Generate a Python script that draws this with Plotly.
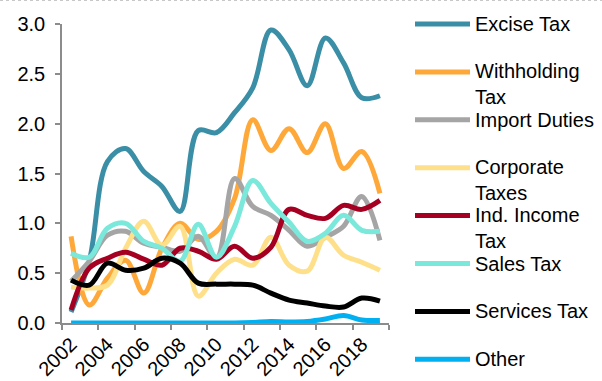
import plotly.graph_objects as go

# Tax revenue by source, 2002-2019
years = list(range(2002, 2020))

series_names = [
    "Excise Tax", "Withholding<br>Tax", "Import Duties", "Corporate<br>Taxes",
    "Ind. Income<br>Tax", "Sales Tax", "Services Tax", "Other",
]

excise_tax = [0.11, 0.62, 1.62, 1.75, 1.52, 1.37, 1.12, 1.93, 1.91, 2.11,
              2.36, 2.94, 2.74, 2.38, 2.86, 2.61, 2.26, 2.28]
withholding_tax = [0.87, 0.18, 0.45, 0.63, 0.30, 0.75, 1.00, 0.84, 0.92, 1.25,
                   2.04, 1.73, 1.95, 1.71, 2.00, 1.55, 1.72, 1.30]
import_duties = [0.42, 0.62, 0.88, 0.92, 0.80, 0.76, 0.72, 0.87, 0.65, 1.45,
                 1.17, 1.08, 0.93, 0.77, 0.86, 0.97, 1.27, 0.83]
corporate_taxes = [0.36, 0.35, 0.38, 0.75, 1.02, 0.78, 0.97, 0.27, 0.50, 0.64,
                   0.58, 0.86, 0.58, 0.52, 0.86, 0.68, 0.61, 0.53]
ind_income_tax = [0.13, 0.55, 0.65, 0.71, 0.64, 0.58, 0.75, 0.72, 0.64, 0.77,
                  0.65, 0.76, 1.14, 1.08, 1.05, 1.18, 1.14, 1.23]
sales_tax = [0.70, 0.66, 0.95, 1.00, 0.82, 0.75, 0.62, 0.99, 0.66, 0.97,
             1.43, 1.20, 1.01, 0.82, 0.90, 1.08, 0.93, 0.92]
services_tax = [0.43, 0.38, 0.60, 0.53, 0.55, 0.65, 0.60, 0.40, 0.39, 0.39,
                0.38, 0.30, 0.23, 0.20, 0.17, 0.16, 0.25, 0.22]
other = [0.0, 0.0, 0.0, 0.0, 0.0, 0.0, 0.0, 0.0, 0.0, 0.0,
         0.005, 0.015, 0.01, 0.015, 0.04, 0.075, 0.03, 0.025]

colors = ["#3a8ea5", "#ffa83a", "#a5a5a5", "#ffe08a",
          "#a50021", "#7ae8da", "#000000", "#00b0f0"]

y_ticks = [0.0, 0.5, 1.0, 1.5, 2.0, 2.5, 3.0]
x_ticks = years[::2]

all_series = [excise_tax, withholding_tax, import_duties, corporate_taxes,
              ind_income_tax, sales_tax, services_tax, other]

FONT = "Arial, Liberation Sans, sans-serif"
FS = 20
AXIS_GREY = "#8c8c8c"

W, H = 602, 381
ML, MR, MT, MB = 62, 213, 24, 58
PW, PH = W - ML - MR, H - MT - MB


def px_to_paper_x(px):
    return (px - ML) / PW


def px_to_paper_y(py):
    return (MT + PH - py) / PH


fig = go.Figure()
for name, vals, col in zip(series_names, all_series, colors):
    fig.add_trace(go.Scatter(
        x=years, y=vals, mode="lines", name=name.replace("<br>", " "),
        line=dict(color=col, width=5, shape="spline", smoothing=1.0),
        showlegend=False, hoverinfo="x+y+name",
    ))

# Legend drawn beside the plot: long line swatch + label per series
shapes = []
annotations = []
legend_top = 24
legend_step = 47.9
for i, (name, col) in enumerate(zip(series_names, colors)):
    ly = legend_top + legend_step * i
    shapes.append(dict(
        type="line", xref="paper", yref="paper",
        x0=px_to_paper_x(415), x1=px_to_paper_x(470),
        y0=px_to_paper_y(ly), y1=px_to_paper_y(ly),
        line=dict(color=col, width=5),
    ))
    n_lines = name.count("<br>") + 1
    annotations.append(dict(
        xref="paper", yref="paper", x=px_to_paper_x(473), y=px_to_paper_y(ly),
        xanchor="left", yanchor="middle", align="left",
        yshift=-(n_lines - 1) * 12.5,
        text=name, showarrow=False,
        font=dict(family=FONT, size=FS, color="#000000"),
    ))

# dotted frame edge along the top of the chart
shapes.append(dict(
    type="line", xref="paper", yref="paper",
    x0=px_to_paper_x(0), x1=px_to_paper_x(W),
    y0=px_to_paper_y(0.5), y1=px_to_paper_y(0.5),
    line=dict(color="#c8c8c8", width=1, dash="dot"),
))

fig.update_layout(
    width=W, height=H,
    margin=dict(l=ML, r=MR, t=MT, b=MB, pad=0, autoexpand=False),
    paper_bgcolor="white", plot_bgcolor="white",
    font=dict(family=FONT, size=FS, color="#000000"),
    shapes=shapes, annotations=annotations,
    showlegend=False,
)

fig.update_xaxes(
    range=[2001.5, 2019.5], automargin=False,
    tickmode="array", tickvals=x_ticks, ticktext=[str(y) for y in x_ticks],
    tickangle=-45, ticks="", showgrid=False, zeroline=False,
    showline=True, linecolor=AXIS_GREY, linewidth=1.5,
    tickfont=dict(family=FONT, size=FS, color="#000000"),
    minor=dict(tickmode="linear", tick0=2001.5, dtick=2, ticks="outside",
               ticklen=5, tickcolor=AXIS_GREY, tickwidth=1.5, showgrid=False),
)

fig.update_yaxes(
    range=[0, 3], automargin=False,
    tickmode="array", tickvals=y_ticks, ticktext=[f"{v:.1f}" for v in y_ticks],
    ticks="outside", ticklen=5, tickcolor=AXIS_GREY, tickwidth=1.5,
    showgrid=False, zeroline=False,
    showline=True, linecolor=AXIS_GREY, linewidth=1.5,
    tickfont=dict(family=FONT, size=FS, color="#000000"),
    ticklabelstandoff=6,
)

fig.write_html("out.html")
